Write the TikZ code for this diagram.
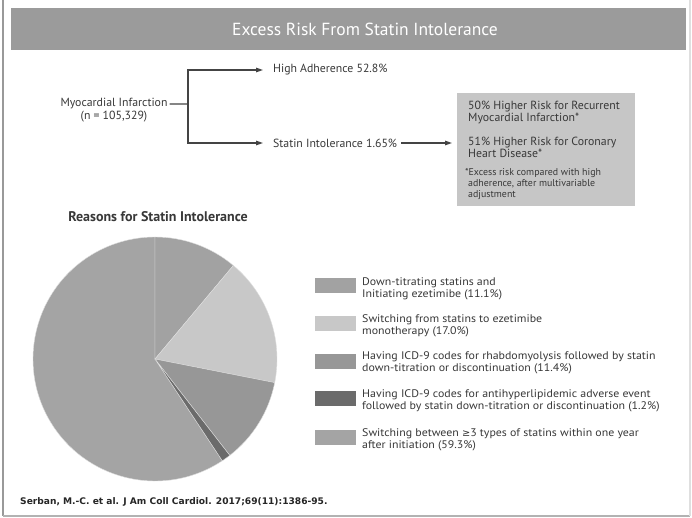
\documentclass[tikz,border=0pt]{standalone}
\usepackage{fontspec}
\setmainfont{PT Sans}
\newfontfamily\dejavu{DejaVu Sans}
\newfontfamily\legfont[FakeStretch=1.08]{PT Sans}
\usetikzlibrary{arrows.meta,positioning,calc}
\definecolor{bargray}{HTML}{9B9B9B}
\definecolor{boxgray}{HTML}{C6C6C6}
\definecolor{linegray}{HTML}{444444}
\definecolor{txtgray}{HTML}{383838}
\definecolor{cA}{HTML}{A2A2A2}
\definecolor{cB}{HTML}{C8C8C8}
\definecolor{cC}{HTML}{979797}
\definecolor{cD}{HTML}{6B6B6B}
\definecolor{cE}{HTML}{A4A4A4}
\tikzset{
  flowtxt/.style={text=txtgray, font=\fontsize{11.8}{12.5}\selectfont, inner sep=0pt},
  boxtxt/.style={anchor=west, text=txtgray, align=left, inner sep=0pt, font=\fontsize{11.8}{11.8}\selectfont},
  notetxt/.style={anchor=west, text=txtgray, align=left, inner sep=0pt, font=\fontsize{9.9}{10.7}\selectfont},
  conn/.style={draw=linegray, line width=1.2pt},
  arr/.style={conn, -{Triangle[length=7pt,width=4.5pt]}},
  legsq/.style={minimum width=41pt, minimum height=15pt, inner sep=0pt},
  legtxt/.style={anchor=west, text=txtgray, align=left, inner sep=0pt, font=\legfont\fontsize{11}{11.7}\selectfont},
  slice/.style={draw=white!75!gray, line width=0.4pt}
}
\begin{document}
\begin{tikzpicture}[x=1pt,y=-1pt]
\useasboundingbox (0,0) rectangle (692,518);
\fill[white] (0,0) rectangle (692,518);
% frame
\draw[color=gray!80, line width=2pt] (3,0) -- (3,516);
\draw[color=gray!60, line width=1.5pt] (3,516) -- (690,516);
\draw[color=gray!25, line width=1.5pt] (690,0) -- (690,516);
% title bar
\fill[bargray] (11,8) rectangle (686,50);
\node[text=white, font=\fontsize{17.5}{19}\selectfont] (title) at (365,29) {Excess Risk From Statin Intolerance};
% flow
\node[flowtxt, align=center] (mi) at (114,110) {Myocardial Infarction\\(n = 105,329)};
\coordinate (j) at (188,104);
\node[flowtxt, anchor=west] (ha) at (273,70) {High Adherence 52.8\%};
\node[flowtxt, anchor=west] (si) at (273,143) {Statin Intolerance 1.65\%};
\node[fill=boxgray, anchor=north west, minimum width=178pt, minimum height=113pt, inner sep=0pt] (box) at (457,93) {};
\node[boxtxt] (b1) at (468,112.5) {50\% Higher Risk for Recurrent\\Myocardial Infarction*};
\node[boxtxt] (b2) at (468,147) {51\% Higher Risk for Coronary\\Heart Disease*};
\node[notetxt] (b3) at (465,184) {*Excess risk compared with high\\\hspace*{3pt}adherence, after multivariable\\\hspace*{3pt}adjustment};
\draw[conn] ($(mi.north east)+(2,6)$) -- (j);
\draw[arr, shorten >=10pt] (j) |- (ha.west);
\draw[arr, shorten >=10pt] (j) |- (si.west);
\draw[arr, shorten <=4pt, shorten >=5pt] (si.east) -- (box.west |- si.east);
% pie title
\node[text=txtgray, font=\bfseries\fontsize{14}{16}\selectfont] (ptitle) at (158,217) {Reasons for Statin Intolerance};
% pie
\begin{scope}[shift={(155,359)}, y=1pt]
\fill[cE, slice] (0,0) -- (-56.52:122pt) arc[start angle=-56.52, end angle=-270, radius=122pt] -- cycle;
\fill[cA, slice] (0,0) -- (90:122pt) arc[start angle=90, end angle=50.04, radius=122pt] -- cycle;
\fill[cB, slice] (0,0) -- (50.04:122pt) arc[start angle=50.04, end angle=-11.16, radius=122pt] -- cycle;
\fill[cC, slice] (0,0) -- (-11.16:122pt) arc[start angle=-11.16, end angle=-52.2, radius=122pt] -- cycle;
\fill[cD, slice] (0,0) -- (-52.2:122pt) arc[start angle=-52.2, end angle=-56.52, radius=122pt] -- cycle;
\end{scope}
% legend
\node[legsq, fill=cA] (l1) at (335.5,285.8) {};
\node[legsq, fill=cB] (l2) at (335.5,323.7) {};
\node[legsq, fill=cC] (l3) at (335.5,361) {};
\node[legsq, fill=cD] (l4) at (335.5,398.3) {};
\node[legsq, fill=cE] (l5) at (335.5,437.5) {};
\node[legtxt] (t1) at (362,288.5) {Down-titrating statins and\\Initiating ezetimibe (11.1\%)};
\node[legtxt] (t2) at (362,326) {Switching from statins to ezetimibe\\monotherapy (17.0\%)};
\node[legtxt] (t3) at (362,363) {Having ICD-9 codes for rhabdomyolysis followed by statin\\down-titration or discontinuation (11.4\%)};
\node[legtxt] (t4) at (362,400.5) {Having ICD-9 codes for antihyperlipidemic adverse event\\followed by statin down-titration or discontinuation (1.2\%)};
\node[legtxt] (t5) at (362,439.5) {Switching between {\dejavu\fontsize{9.8}{11}\selectfont ≥}3 types of statins within one year\\after initiation (59.3\%)};
% citation
\node[anchor=west, text=black!85, inner sep=0pt, font=\dejavu\bfseries\fontsize{9.1}{10}\selectfont] (cite) at (20,502) {Serban, M.-C. et al. J Am Coll Cardiol. 2017;69(11):1386-95.};
\end{tikzpicture}
\end{document}
